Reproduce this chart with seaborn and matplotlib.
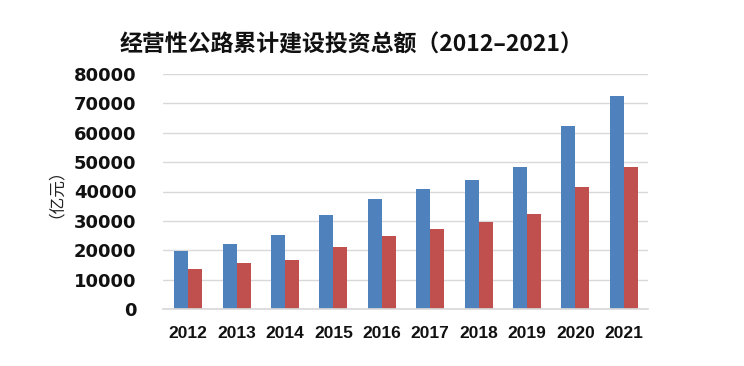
import matplotlib
matplotlib.use("Agg")
import matplotlib.pyplot as plt
import seaborn as sns
import pandas as pd

# data (亿元)
years = ["2012", "2013", "2014", "2015", "2016", "2017", "2018", "2019", "2020", "2021"]
total_invest = [19800, 22100, 25200, 32000, 37500, 40800, 43900, 48300, 62200, 72600]
second_series = [13700, 15600, 16700, 21100, 24900, 27200, 29600, 32400, 41500, 48200]
series_names = ["累计建设投资总额", "累计资本金投入"]

sns.set_theme(style="white")
plt.rcParams['font.family'] = ['Noto Sans CJK SC', 'DejaVu Sans']

df = pd.DataFrame({
    "year": years * 2,
    "value": total_invest + second_series,
    "series": [series_names[0]] * len(years) + [series_names[1]] * len(years),
})

fig = plt.figure(figsize=(7.44, 3.66), dpi=100)
ax = fig.add_axes([163/744, 1 - 309/366, (648-163)/744, (309-74)/366])

sns.barplot(data=df, x="year", y="value", hue="series",
            palette=["#4F81BD", "#C0504D"], width=0.58, saturation=1,
            linewidth=0, gap=0, legend=False, ax=ax)

ax.set_ylim(0, 80000)
ax.set_xlim(-0.52, 9.5)
yt = list(range(0, 80001, 10000))
ax.set_yticks(yt, [str(v) for v in yt], fontfamily="DejaVu Sans",
              fontweight="bold", fontsize=13, color="#111111")
ax.set_xticks(range(len(years)), years, fontfamily="Liberation Sans",
              fontweight="bold", fontsize=12.5, color="#111111")
ax.yaxis.grid(True, color="#d9d9d9", linewidth=1)
ax.set_axisbelow(True)
for s in ["top", "right", "left"]:
    ax.spines[s].set_visible(False)
ax.spines["bottom"].set_color("#d9d9d9")
ax.tick_params(axis="both", length=0)
ax.tick_params(axis="y", pad=19)
ax.tick_params(axis="x", pad=12)

ax.set_xlabel("")
ax.set_ylabel("")
fig.text(47/744, 1 - 185/366, "（亿元）", rotation=90, ha="center", va="center",
         fontsize=12, color="#222222")

fig.text(352/744, 1 - 45/366, "经营性公路累计建设投资总额（2012–2021）",
         ha="center", va="center", fontsize=16.5, fontweight="bold", color="#111111")

fig.savefig("out.png", dpi=100, facecolor="white")
